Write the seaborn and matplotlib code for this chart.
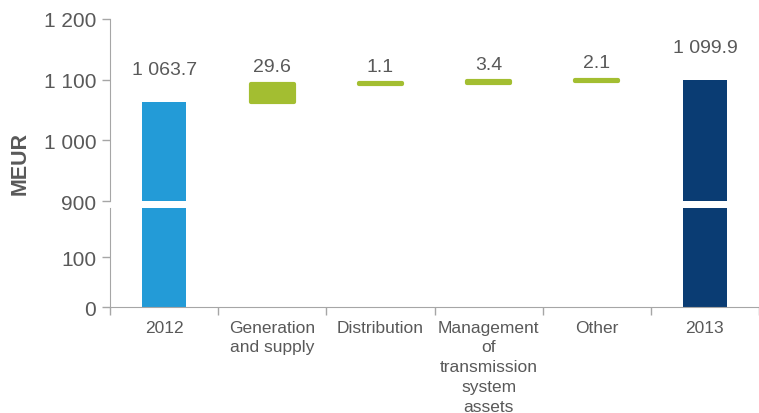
import numpy as np
import seaborn as sns
import matplotlib.pyplot as plt

sns.set_style("white")
plt.rcParams['font.family'] = ['Liberation Sans', 'DejaVu Sans']

# data
categories = ["2012", "Generation\nand supply", "Distribution",
              "Management\nof\ntransmission\nsystem\nassets", "Other", "2013"]
start_value = 1063.7
deltas = [29.6, 1.1, 3.4, 2.1]
end_value = 1099.9

blue = "#239bd7"
navy = "#0a3c73"
green = "#a3be31"
grey_txt = "#595959"
grey_ax = "#a6a6a6"

def fmt(v, dec=0):
    s = f"{v:,.{dec}f}"
    return s.replace(",", " ")

fig = plt.figure(figsize=(7.59, 4.14), dpi=100)
ax_top = fig.add_axes([0.145, 0.512, 0.855, 0.440])
ax_bot = fig.add_axes([0.145, 0.256, 0.855, 0.239])

x = np.arange(len(categories))
bottoms = start_value + np.concatenate([[0], np.cumsum(deltas)[:-1]])

for ax in (ax_top, ax_bot):
    ax.bar(x[0], start_value, width=0.41, color=blue, linewidth=0)
    ax.bar(x[-1], end_value, width=0.41, color=navy, linewidth=0)
    ax.bar(x[1:-1], deltas, bottom=bottoms, width=0.40, color=green,
           edgecolor=green, linewidth=3, joinstyle="round")
    ax.set_xlim(-0.5, len(categories) - 0.5)
    for s in ("top", "right"):
        ax.spines[s].set_visible(False)
    ax.spines["left"].set_color(grey_ax)
    ax.spines["bottom"].set_color(grey_ax)
    ax.tick_params(axis="y", colors=grey_ax, labelcolor=grey_txt, labelsize=15,
                   length=6, width=1, left=True, pad=4)

ax_top.set_ylim(900, 1200)
ax_top.set_yticks([900, 1000, 1100, 1200])
ax_top.set_yticklabels([fmt(v) for v in [900, 1000, 1100, 1200]])
ax_top.spines["bottom"].set_visible(False)
ax_top.set_xticks([])

ax_bot.set_ylim(0, 198)
ax_bot.set_yticks([0, 100])
ax_bot.set_yticklabels(["0", "100"])
ax_bot.set_xticks(np.arange(len(categories) + 1) - 0.5)
ax_bot.set_xticklabels([])
ax_bot.set_xticks(x, minor=True)
ax_bot.set_xticklabels(categories, minor=True, fontsize=12.5, color=grey_txt)
ax_bot.tick_params(axis="x", which="major", colors=grey_ax, length=6, width=1, bottom=True)
ax_bot.tick_params(axis="x", which="minor", length=0, pad=9)
for lbl in ax_bot.get_xticklabels(minor=True):
    lbl.set_linespacing(1.4)

# value labels
ax_top.annotate(fmt(start_value, 1), (x[0], start_value), xytext=(0, 23),
                textcoords="offset points", ha="center", va="center",
                fontsize=14, color=grey_txt)
ax_top.annotate(fmt(end_value, 1), (x[-1], end_value), xytext=(0, 23),
                textcoords="offset points", ha="center", va="center",
                fontsize=14, color=grey_txt)
for xi, b, d in zip(x[1:-1], bottoms, deltas):
    ax_top.annotate(fmt(d, 1), (xi, b + d), xytext=(0, 12),
                    textcoords="offset points", ha="center", va="center",
                    fontsize=14, color=grey_txt)

fig.text(0.027, 0.604, "MEUR", rotation=90, ha="center", va="center",
         fontsize=15.5, fontweight="bold", color=grey_txt)

fig.savefig("out.png", dpi=100)
